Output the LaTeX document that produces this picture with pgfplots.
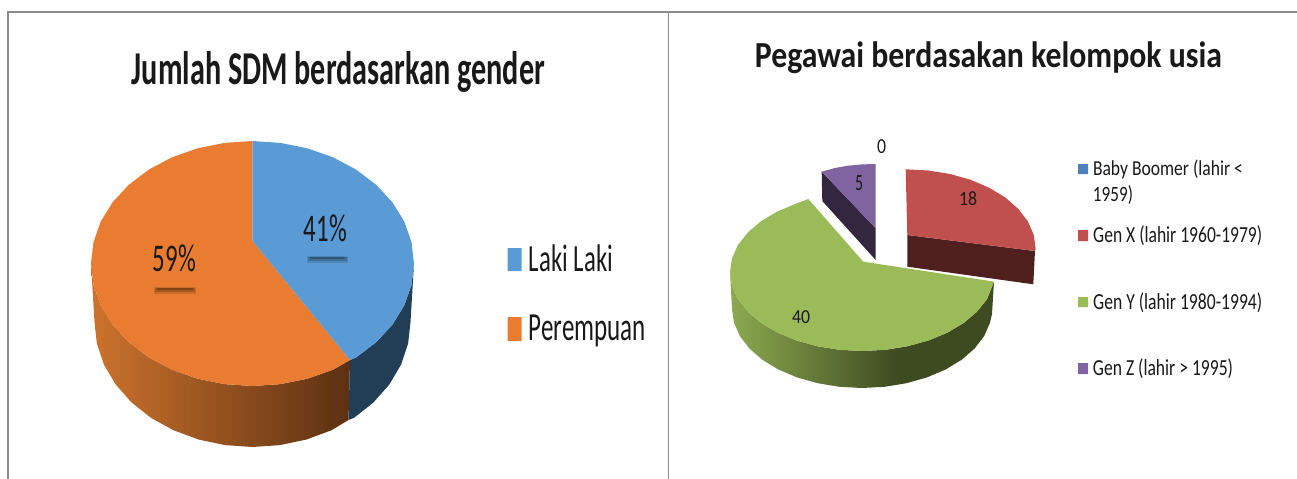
\documentclass[border=0pt]{standalone}
\usepackage{pgfplots}
\pgfplotsset{compat=1.18}
\usepackage{fontspec}
\setmainfont{Carlito}
\definecolor{oTop}{RGB}{233,124,48}
\definecolor{oL}{RGB}{205,115,45}
\definecolor{oR}{RGB}{92,48,17}
\definecolor{bTop}{RGB}{91,155,213}
\definecolor{bSide}{RGB}{34,62,86}
\definecolor{gTop}{RGB}{155,187,89}
\definecolor{gL}{RGB}{140,170,80}
\definecolor{gM}{RGB}{62,74,32}
\definecolor{rTop}{RGB}{192,80,77}
\definecolor{rSide}{RGB}{79,31,30}
\definecolor{pTop}{RGB}{128,100,162}
\definecolor{pSide}{RGB}{51,38,63}
\definecolor{lBlue}{RGB}{79,129,189}
\definecolor{frame}{RGB}{140,140,140}
\pgfdeclarehorizontalshading{oside}{100bp}{color(0bp)=(oL); color(25bp)=(oL); color(75bp)=(oR); color(100bp)=(oR)}
\pgfdeclarehorizontalshading{gside}{100bp}{color(0bp)=(gL); color(25bp)=(gL); color(57bp)=(gM); color(100bp)=(gM)}
\newcommand{\txt}[5]{\node[inner sep=0pt,anchor=center,text=black!90] at (axis cs:#1,#2) {\resizebox*{#3bp}{#4bp}{#5}};}
\begin{document}
\begin{tikzpicture}
\path[use as bounding box] (0,0) rectangle (1297bp,479bp);
\begin{axis}[
  at={(0,0)}, anchor=south west,
  scale only axis, width=1297bp, height=479bp,
  xmin=0, xmax=1297, ymin=0, ymax=479, y dir=reverse,
  axis lines=none, no markers, clip=true,
  every axis plot/.append style={forget plot, draw=none}]
% frame
\addplot[draw=frame, line width=1.1pt] coordinates {(8,479) (8,12) (1297,12)};
\addplot[draw=frame, line width=1pt] coordinates {(668,12) (668,479)};
% left pie sides
\addplot[shading=oside] coordinates {(91,263.5) (93.5,284.8) (100.7,305.4) (112.6,324.75) (128.8,342.2) (148.7,357.3) (171.75,369.6) (197.3,378.6) (224.5,384.1) (252.5,386) (280.5,384.1) (307.7,378.6) (333.25,369.6) (350,360)
 (348.5,420) (331.5,430.25) (306.5,439.5) (279.9,445.1) (252.5,447) (225.1,445.1) (198.5,439.5) (173.5,430.25) (150.9,417.8) (131.5,402.4) (115.7,384.5) (104,364.75) (96.9,343.7) (94.5,322) (91,263.5)};
\addplot[fill=bSide] coordinates {(350,360) (356.3,357.3) (376.2,342.2) (392.4,324.75) (404.3,305.4) (411.5,284.8) (414,263.5) (410.5,322) (408.1,343.7) (401,364.75) (389.3,384.5) (373.5,402.4) (354.1,417.8) (348.5,420) (350,360)};
% left pie tops: Laki Laki 41%, Perempuan 59%
\addplot[fill=oTop] coordinates {(252.5,241) (350,360) (333.25,369.6) (307.7,378.6) (280.5,384.1) (252.5,386) (224.5,384.1) (197.3,378.6) (171.75,369.6) (148.7,357.3) (128.8,342.2) (112.6,324.75) (100.7,305.4) (93.5,284.8) (91,263.5) (93.5,242.2) (100.7,221.6) (112.6,202.25) (128.8,184.8) (148.7,169.7) (171.75,157.4) (197.3,148.4) (224.5,142.9) (252.5,141) (252.5,241)};
\addplot[fill=bTop] coordinates {(252.5,241) (252.5,141) (280.5,142.9) (307.7,148.4) (333.25,157.4) (356.3,169.7) (376.2,184.8) (392.4,202.25) (404.3,221.6) (411.5,242.2) (414,263.5) (411.5,284.8) (404.3,305.4) (392.4,324.75) (376.2,342.2) (356.3,357.3) (350,360) (252.5,241)};
% leader shadows
\addplot[draw=bSide, opacity=.2, line width=7pt] coordinates {(307,259.5) (348,259.5)};
\addplot[draw=bSide, opacity=.35, line width=4.5pt] coordinates {(308,259) (347,259)};
\addplot[draw=bSide, opacity=.5, line width=2pt] coordinates {(310,258) (345,258)};
\addplot[draw=oR, opacity=.2, line width=7pt] coordinates {(154,290.5) (196,290.5)};
\addplot[draw=oR, opacity=.35, line width=4.5pt] coordinates {(155,290) (195,290)};
\addplot[draw=oR, opacity=.5, line width=2pt] coordinates {(157,289) (193,289)};
% left legend
\addplot[fill=bTop] coordinates {(507.7,248) (521.7,248) (521.7,271) (507.7,271) (507.7,248)};
\addplot[fill=oTop] coordinates {(507.7,317) (521.7,317) (521.7,341) (507.7,341) (507.7,317)};
% right pie
\addplot[shading=gside] coordinates {(730,272) (732,285.7) (737.9,299) (747.8,311.5) (761,322.8) (777.3,332.5) (796.25,340.4) (817.2,346.2) (839.5,349.8) (862.5,351) (885.5,349.8) (907.8,346.2) (928.75,340.4) (947.7,332.5) (964,322.8) (977.2,311.5) (987.1,299) (994,281.6)
 (992,314) (990,322.7) (984.2,336) (974.6,348.5) (961.6,359.8) (945.6,369.5) (927,377.4) (906.5,383.2) (884.6,386.8) (862,388) (839.4,386.8) (817.5,383.2) (797,377.4) (778.4,369.5) (762.4,359.8) (749.4,348.5) (739.8,336) (734,322.7) (732,309) (730,272)};
\addplot[fill=gTop] coordinates {(863.3,261.7) (808.3,199) (796.25,203.6) (777.3,211.5) (761,221.2) (747.8,232.5) (737.9,245) (732,258.3) (730,272) (732,285.7) (737.9,299) (747.8,311.5) (761,322.8) (777.3,332.5) (796.25,340.4) (817.2,346.2) (839.5,349.8) (862.5,351) (885.5,349.8) (907.8,346.2) (928.75,340.4) (947.7,332.5) (964,322.8) (977.2,311.5) (987.1,299) (994,281.6) (863.3,261.7)};
\addplot[fill=rSide] coordinates {(907.3,235) (1035,251) (1033.3,284.3) (907.3,266.7) (907.3,235)};
\addplot[fill=rTop] coordinates {(907.3,235) (905.7,169.3) (928.3,170.5) (950.2,174) (970.7,179.8) (989.3,187.8) (1005.3,197.5) (1018.3,208.9) (1027.9,221.4) (1033.7,234.7) (1035.7,248.5) (1035,251) (907.3,235)};
\addplot[fill=pSide] coordinates {(821.7,171.7) (875.7,228.3) (875.7,260) (822.3,201) (821.7,171.7)};
\addplot[fill=pTop] coordinates {(821.7,171.7) (835,168) (848,165.7) (862,164.4) (875.7,164) (875.7,228.3) (821.7,171.7)};
% right legend
\addplot[fill=lBlue] coordinates {(1078,164) (1088,164) (1088,174) (1078,174) (1078,164)};
\addplot[fill=rTop] coordinates {(1078,230) (1088,230) (1088,241) (1078,241) (1078,230)};
\addplot[fill=gTop] coordinates {(1078,297) (1088,297) (1088,307) (1078,307) (1078,297)};
\addplot[fill=pTop] coordinates {(1078,363) (1088,363) (1088,374) (1078,374) (1078,363)};
% texts
\txt{338.5}{71.5}{413}{41}{\bfseries Jumlah SDM berdasarkan gender}
\txt{988.5}{57.5}{467}{32}{\bfseries Pegawai berdasakan kelompok usia}
\txt{325.5}{228.5}{43}{27}{41\%}
\txt{174.5}{258.5}{43}{27}{59\%}
\txt{571}{258.5}{84}{27}{Laki Laki}
\txt{587.5}{331}{117}{32}{Perempuan}
\txt{881.7}{147}{9}{14}{0}
\txt{859}{183.5}{8}{15}{5}
\txt{968}{199}{18}{14}{18}
\txt{801}{317.5}{18}{13}{40}
\txt{1168}{169.5}{150}{19}{Baby Boomer (lahir <}
\txt{1113}{195.5}{40}{19}{1959)}
\txt{1177.7}{236}{169}{20}{Gen X (lahir 1960-1979)}
\txt{1177.7}{303}{169}{20}{Gen Y (lahir 1980-1994)}
\txt{1163}{369}{140}{20}{Gen Z (lahir > 1995)}
\end{axis}
\end{tikzpicture}
\end{document}
